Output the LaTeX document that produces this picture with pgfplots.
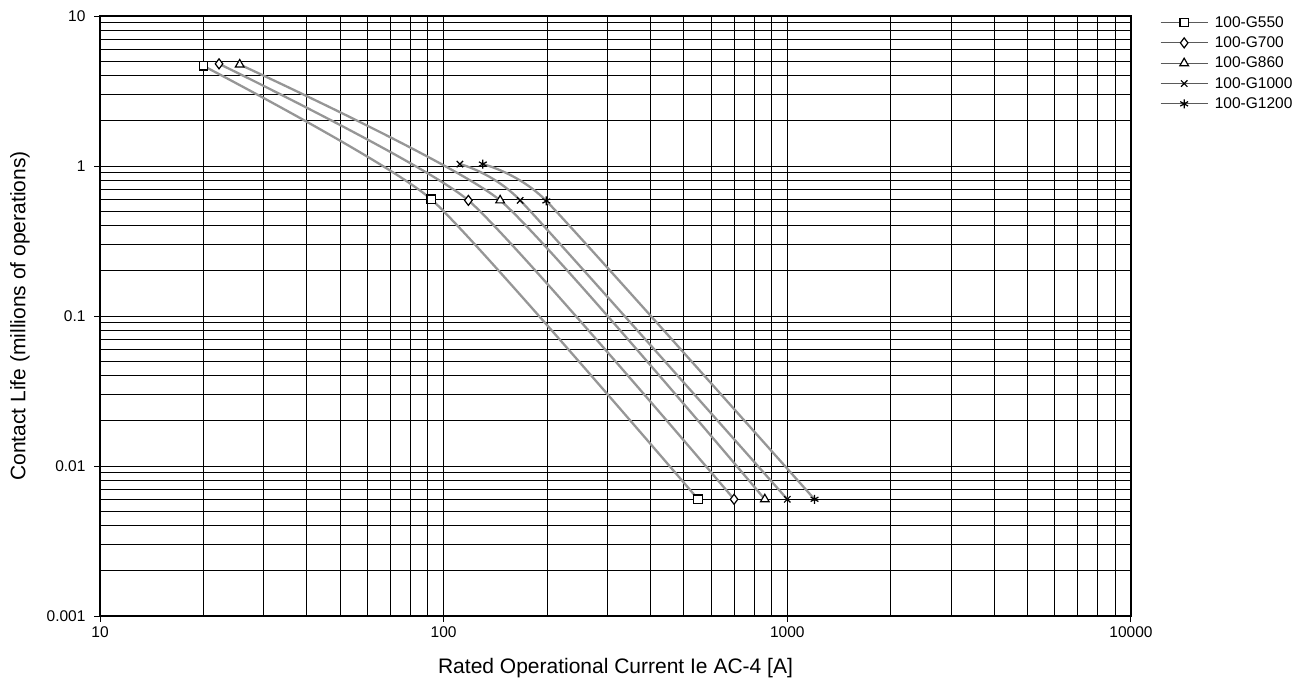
\documentclass[border=0pt]{standalone}
\usepackage{fontspec}
\setmainfont{Liberation Sans}
\usepackage{pgfplots}
\pgfplotsset{compat=1.18}

\definecolor{lineg}{RGB}{150,150,150}
\definecolor{legg}{RGB}{90,90,90}

\begin{document}
\begin{tikzpicture}
\begin{axis}[
  at={(0pt,0pt)}, anchor=south west,
  scale only axis, width=1031pt, height=600pt,
  xmode=log, ymode=log,
  xmin=10, xmax=10000, ymin=0.001, ymax=10,
  xtick={10,100,1000,10000}, xticklabels={10,100,1000,10000},
  ytick={0.001,0.01,0.1,1,10}, yticklabels={0.001,0.01,0.1,1,10},
  /pgf/number format/assume math mode=true,
  tick pos=left,
  grid=both,
  major grid style={black, line width=1pt},
  minor grid style={black, line width=1pt},
  tick align=outside, major tick length=6pt, minor tick length=0pt,
  tick style={black, line width=1pt},
  axis line style={black, line width=1.2pt},
  tick label style={font=\fontsize{15.5}{17}\selectfont},
  xticklabel style={yshift=-1pt},
  yticklabel style={xshift=-5pt},
  xlabel={Rated Operational Current Ie AC-4 [A]},
  ylabel={Contact Life (millions of operations)},
  xlabel style={at={(axis description cs:0.5,-0.0867)}, anchor=center, font=\fontsize{21}{25}\selectfont},
  ylabel style={at={(axis description cs:-0.0776,0.5)}, anchor=center, font=\fontsize{21}{25}\selectfont},
  legend style={at={(axis description cs:1.0281,1.003)}, anchor=north west, draw=none, fill=none,
    font=\fontsize{15.5}{17}\selectfont, inner sep=0pt, row sep=4pt, cells={anchor=west}},
  legend image code/.code={%
    \draw[legg, line width=1pt] (0pt,0pt) -- (47pt,0pt);
    \draw[#1, draw=black, line width=1pt, fill=white] plot coordinates {(23.5pt,0pt)};
    \path (51pt,0pt);
  },
  every axis plot/.append style={lineg, line width=2.3pt, smooth, tension=0.3,
     mark options={draw=black, fill=white, line width=1.2pt, solid}},
]
\addplot[mark=square*, mark size=4.2pt] coordinates {(20,4.65) (92,0.60) (550,0.006)};
\addlegendentry{100-G550}
\addplot[mark=diamond*, mark size=5pt] coordinates {(22.2,4.8) (118,0.59) (700,0.006)};
\addlegendentry{100-G700}
\addplot[mark=triangle*, mark size=5pt] coordinates {(25.5,4.75) (146,0.59) (860,0.006)};
\addlegendentry{100-G860}
\addplot[mark=x, mark size=4.5pt] coordinates {(111.5,1.03) (167,0.59) (1000,0.006)};
\addlegendentry{100-G1000}
\addplot[mark=asterisk, mark size=4.5pt] coordinates {(130,1.03) (199,0.585) (1200,0.006)};
\addlegendentry{100-G1200}
\end{axis}
\pgfresetboundingbox
\path[use as bounding box] (-100pt,-72pt) rectangle (1207pt,616pt);
\end{tikzpicture}
\end{document}
